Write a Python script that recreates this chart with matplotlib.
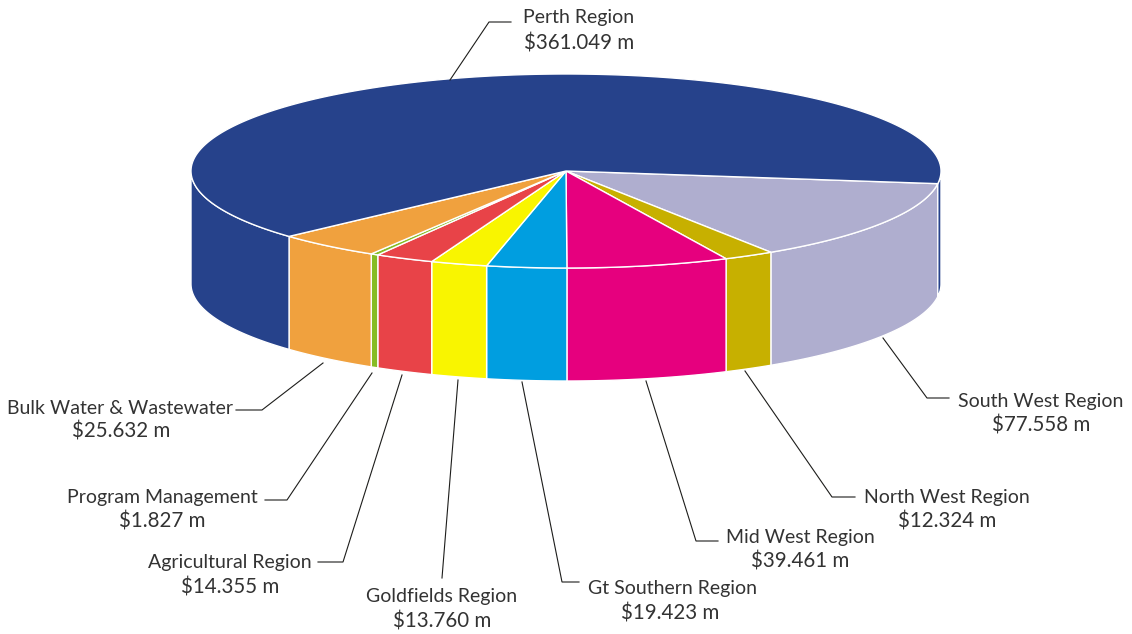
import numpy as np
import matplotlib
matplotlib.use("Agg")
import matplotlib.pyplot as plt

regions = ["South West Region", "North West Region", "Mid West Region", "Gt Southern Region",
           "Goldfields Region", "Agricultural Region", "Program Management",
           "Bulk Water & Wastewater", "Perth Region"]
values = [77.558, 12.324, 39.461, 19.423, 13.760, 14.355, 1.827, 25.632, 361.049]
value_labels = ["$77.558 m", "$12.324 m", "$39.461 m", "$19.423 m", "$13.760 m", "$14.355 m",
                "$1.827 m", "$25.632 m", "$361.049 m"]
colors = ["#AFAECF", "#C7B000", "#E6007E", "#009EE0", "#F9F500", "#E84348", "#86BC25", "#F0A13E", "#26428B"]

name_anchors = [(1041, 401.5), (947, 498), (800, 538), (672, 588.5), (442, 596.5), (230, 562.5), (162, 497.5), (120, 408), (579, 18)]
value_anchors = [(1041, 426), (947, 522), (800, 562), (670, 613), (442, 621), (230, 587), (162, 521), (121, 432), (579, 43)]
leaders = [[(883, 338), (927, 398), (949, 398)],
           [(745, 371), (832, 497), (855, 497)],
           [(646, 381), (696, 541), (718, 541)],
           [(522, 382), (562, 582), (579, 582)],
           [(458, 380), (442, 578)],
           [(402, 375), (343, 562), (318, 562)],
           [(372, 373), (287, 500), (265, 500)],
           [(323, 363), (262, 410), (236, 410)],
           [(450, 80), (489, 22), (511, 22)]]

CX, CY, RX, RY, DEPTH = 566, 171, 375, 97, 113
START = 7.5

fig = plt.figure(figsize=(11.32, 6.34), dpi=100)
ax = fig.add_axes([0, 0, 1, 1])
ax.set_xlim(0, 1132)
ax.set_ylim(634, 0)
ax.axis("off")

def arc(a, b):
    t = np.radians(np.linspace(a, b, max(int(abs(b - a) * 2), 2) + 1))
    return CX + RX * np.cos(t), CY + RY * np.sin(t)

edges = START + np.concatenate([[0], np.cumsum(values)]) / np.sum(values) * 360
for i, col in enumerate(colors):
    a, b = edges[i], edges[i + 1]
    for lo, hi in ((a, b), (a - 360, b - 360)):
        lo2, hi2 = max(lo, 0), min(hi, 180)
        if hi2 > lo2:
            x, y = arc(lo2, hi2)
            ax.fill(np.r_[x, x[::-1]], np.r_[y, y[::-1] + DEPTH], facecolor=col,
                    edgecolor="white", linewidth=1.0, joinstyle="miter", zorder=2)
for i, col in enumerate(colors):
    x, y = arc(edges[i], edges[i + 1])
    ax.fill(np.r_[CX, x], np.r_[CY, y], facecolor=col, edgecolor="white",
            linewidth=1.0, joinstyle="miter", zorder=3)

for name, val, na, va_, pts in zip(regions, value_labels, name_anchors, value_anchors, leaders):
    px, py = zip(*pts)
    ax.plot(px, py, color="#1d1d1b", lw=0.8, zorder=4, solid_joinstyle="miter")
    ax.text(na[0], na[1], name, ha="center", va="center",
            fontsize=14, family="Lato", weight="normal", color="#333333")
    ax.text(va_[0], va_[1], val.replace("$", r"\$"), ha="center", va="center",
            fontsize=14.8, family="Lato", weight="normal", color="#333333")

fig.savefig("out.png", dpi=100)
